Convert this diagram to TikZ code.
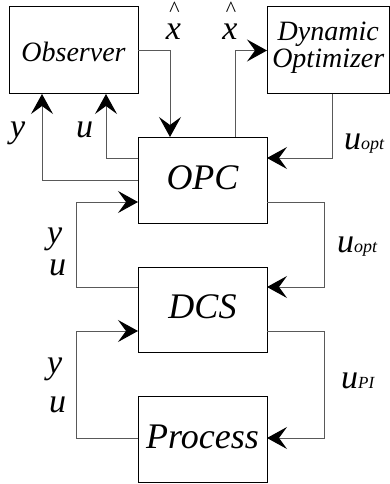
\documentclass[tikz,border=0pt]{standalone}
\usepackage{fontspec}
\setmainfont{Liberation Serif}[ItalicFont={Liberation Serif Italic}]
\usetikzlibrary{arrows.meta}

\tikzset{
  blockbase/.style={draw=black, line width=1pt, inner sep=0pt, outer sep=0pt},
  box/.style={blockbase, font=\itshape\fontsize{36}{36}\selectfont, text height=24pt, text depth=6pt},
  conn/.style={draw=black!65, line width=1pt,
    -{Stealth[length=20pt,width=22pt,inset=8pt,black]}},
  lbl/.style={font=\itshape\fontsize{34}{34}\selectfont, inner sep=0pt, anchor=base west},
  hatlbl/.style={font=\itshape\fontsize{34}{23}\selectfont, inner sep=0pt, align=center, anchor=base},
}

\begin{document}
\begin{tikzpicture}[x=1pt,y=-1pt]
\useasboundingbox (0,0) rectangle (390,484);

% blocks
\node[blockbase, minimum width=129pt, minimum height=87pt,
  font=\itshape\fontsize{28}{28}\selectfont, text height=23pt, text depth=0pt]
  (obs) at (73.5,50.5) {Observer};
\node[blockbase, minimum width=122.5pt, minimum height=87pt, align=center,
  font=\itshape\fontsize{28}{27}\selectfont, text depth=12pt]
  (dyn) at (328.25,50.5) {Dynamic\\Optimizer};
\node[box, minimum width=129pt, minimum height=86pt] (opc) at (202.5,180) {OPC};
\node[box, minimum width=129pt, minimum height=85pt] (dcs) at (202.5,309.5) {DCS};
\node[box, minimum width=129pt, minimum height=86pt] (proc) at (202.5,439) {Process};

% signal paths
\draw[conn] (obs.east) -| ([xshift=-32.5pt]opc.north);
\draw[conn] ([xshift=32.5pt]opc.north) |- (dyn.west);
\draw[conn] ([xshift=3.75pt]dyn.south) |- ([yshift=22pt]opc.east);
\draw[conn] ([yshift=22pt]opc.west) -| ([xshift=32.5pt]obs.south);
\draw[conn] (opc.west) -| ([xshift=-31.5pt]obs.south);
\draw[conn] ([yshift=22.5pt]dcs.west) -- ++(-62pt,0pt) |- ([yshift=-22pt]opc.west);
\draw[conn] ([yshift=-22pt]opc.east) -- ++(57pt,0pt) |- ([yshift=22.5pt]dcs.east);
\draw[conn] ([yshift=1pt]proc.west) -- ++(-62pt,0pt) |- ([yshift=-21.5pt]dcs.west);
\draw[conn] ([yshift=-21.5pt]dcs.east) -- ++(57pt,0pt) |- ([yshift=1pt]proc.east);

% signal labels
\node[hatlbl] (xh1) at (173.5,40) {{\fontsize{22}{22}\selectfont\textasciicircum}\\x};
\node[hatlbl] (xh2) at (230,40) {{\fontsize{22}{22}\selectfont\textasciicircum}\\x};
\node[lbl] (y1) at (10,137) {y};
\node[lbl] (u1) at (76,137) {u};
\node[lbl] (uo1) at (344,149) {u{\fontsize{18}{18}\selectfont opt}};
\node[lbl] (y2) at (47,243) {y};
\node[lbl] (u2) at (49,275) {u};
\node[lbl] (uo2) at (337,252) {u{\fontsize{18}{18}\selectfont opt}};
\node[lbl] (y3) at (47,373) {y};
\node[lbl] (u3) at (49,412) {u};
\node[lbl] (upi) at (341,388) {u{\fontsize{17}{17}\selectfont PI}};
\end{tikzpicture}
\end{document}
